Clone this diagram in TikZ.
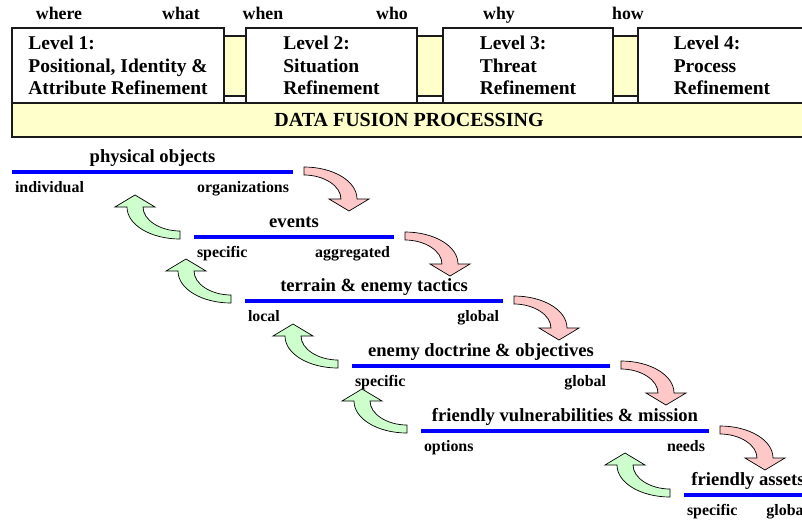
\documentclass[tikz,border=0pt]{standalone}
\usepackage{fontspec}
\setmainfont{Liberation Serif}
\usetikzlibrary{calc}
\definecolor{paleyellow}{HTML}{FFFFCC}
\definecolor{palepink}{HTML}{FFC8C8}
\definecolor{palegreen}{HTML}{CCFFCC}
\definecolor{edge}{HTML}{1A1A1A}
\tikzset{
  bend arrow/.pic={
    \path[pic actions] (0,-4) .. controls (29,-4) and (53,10) .. (53,28)
      -- (65,28) -- (45,40) -- (25,28) -- (37,28)
      .. controls (37,15) and (20,4) .. (0,4) -- cycle;
  }
}
\begin{document}
\begin{tikzpicture}[x=1pt, y=-1pt,
  every node/.style={inner sep=0pt, outer sep=0pt},
  qlabel/.style={anchor=base, font=\bfseries\fontsize{17.8}{20}\selectfont},
  levelbox/.style={draw=edge, line width=1.6pt, fill=white, minimum height=75pt,
    align=left, anchor=north west, font=\bfseries\fontsize{19.5}{22.5}\selectfont},
  barbox/.style={draw=edge, line width=1.6pt, fill=paleyellow, minimum height=34pt,
    minimum width=794pt, font=\bfseries\fontsize{20}{22}\selectfont},
  levelline/.style={draw=blue, line width=4.5pt},
  heading/.style={anchor=base, font=\bfseries\fontsize{18.6}{20}\selectfont},
  sublabel/.style={font=\bfseries\fontsize{15.9}{18}\selectfont},
  downarrow/.style={fill=palepink, draw=black, line width=0.7pt},
  uparrow/.style={fill=palegreen, draw=black, line width=0.7pt, rotate=180},
]
\path[use as bounding box, clip] (0,0) rectangle (802,520);

% question words above the levels
\node[qlabel] (qwhere) at (59,19) {where};
\node[qlabel] (qwhat)  at (181,19) {what};
\node[qlabel] (qwhen)  at (263,19) {when};
\node[qlabel] (qwho)   at (392,19) {who};
\node[qlabel] (qwhy)   at (499,19) {why};
\node[qlabel] (qhow)   at (628,19) {how};

% yellow band behind the level boxes
\path[draw=edge, line width=1.4pt, fill=paleyellow] (12,36) rectangle (806,96);

% level boxes
\node[levelbox, minimum width=212pt] (lev1) at (12,28)
  {Level 1:\\Positional, Identity \&\\Attribute Refinement};
\node[levelbox, minimum width=171pt] (lev2) at (246,28)
  {Level 2:\\Situation\\Refinement};
\node[levelbox, minimum width=170pt] (lev3) at (443,28)
  {Level 3:\\Threat\\Refinement};
\node[levelbox, minimum width=168pt] (lev4) at (638,28)
  {Level 4:\\Process\\Refinement};

% processing bar
\node[barbox] (dfp) at (409,120) {DATA FUSION PROCESSING};

% abstraction levels: line ends
\coordinate (a1) at (12,172);  \coordinate (b1) at (293,172);
\coordinate (a2) at (194,237); \coordinate (b2) at (394,237);
\coordinate (a3) at (245,301); \coordinate (b3) at (503,301);
\coordinate (a4) at (352,366); \coordinate (b4) at (610,366);
\coordinate (a5) at (421,431); \coordinate (b5) at (709,431);
\coordinate (a6) at (684,495); \coordinate (b6) at (812,495);

\foreach \i/\txt/\lo/\hi in {
  1/physical objects/individual/organizations,
  2/events/specific/aggregated,
  3/terrain \& enemy tactics/local/global,
  4/enemy doctrine \& objectives/specific/global,
  5/friendly vulnerabilities \& mission/options/needs,
  6/friendly assets/specific/global}{
  \draw[levelline] (a\i) -- (b\i);
  \node[heading] (h\i) at ($(a\i)!0.5!(b\i)+(0,-10)$) {\txt};
  \node[sublabel, anchor=base west] (lo\i) at ($(a\i)+(3,20)$) {\lo};
  \node[sublabel, anchor=base east] (hi\i) at ($(b\i)+(-4,20)$) {\hi};
}

% downward (pink) and upward (green) bent arrows between levels
\foreach \i in {1,...,5}{
  \pic[downarrow] at ($(b\i)+(11,-1)$) {bend arrow};
}
\foreach \i in {2,...,6}{
  \pic[uparrow] at ($(a\i)+(-14,-2)$) {bend arrow};
}
\end{tikzpicture}
\end{document}
